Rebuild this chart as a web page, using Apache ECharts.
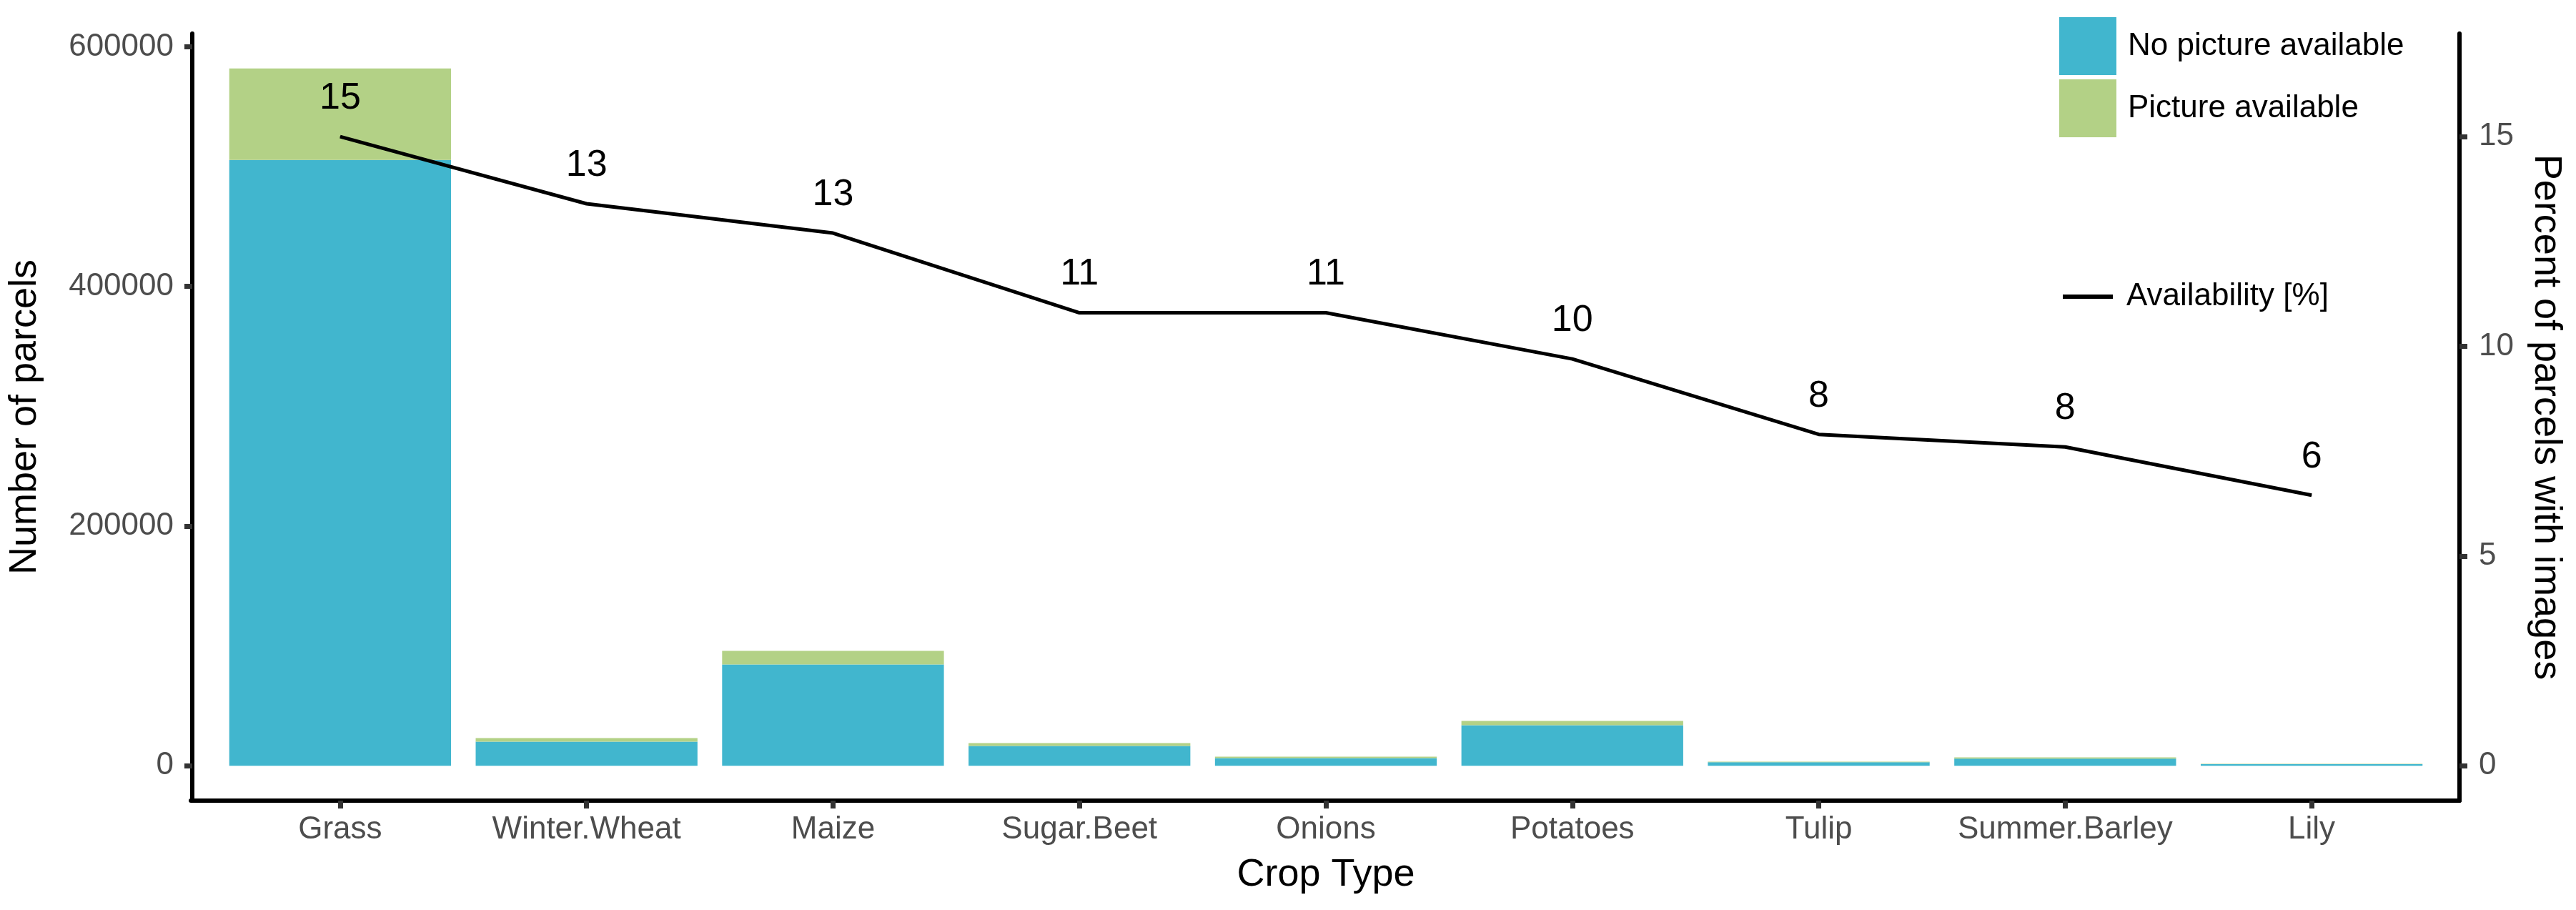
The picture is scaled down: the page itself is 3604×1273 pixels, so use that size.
<!DOCTYPE html>
<html>
<head>
<meta charset="utf-8">
<script src="https://cdn.jsdelivr.net/npm/echarts@6/dist/echarts.min.js"></script>
<style>
html,body{margin:0;padding:0;background:#fff;}
#chart{width:3604px;height:1273px;}
</style>
</head>
<body>
<div id="chart"></div>
<script>
// ---- data ----
const crops = ['Grass','Winter.Wheat','Maize','Sugar.Beet','Onions','Potatoes','Tulip','Summer.Barley','Lily'];
const noPicture = [505500, 20100, 84600, 16500, 6400, 33900, 3000, 6000, 1300];
const picture   = [76400, 3000, 11300, 2400, 1200, 3500, 400, 1000, 300];
const availabilityPct = [15.0, 13.4, 12.7, 10.8, 10.8, 9.7, 7.9, 7.6, 6.45];
const leftTicks = [0, 200000, 400000, 600000];
const rightTicks = [0, 5, 10, 15];
const secRatio = 35000; // secondary axis = primary / 35000

const FONT = 'Liberation Sans, Arial, sans-serif';
const leftMin = -29100, leftMax = 611000;

const chart = echarts.init(document.getElementById('chart'), null, {renderer:'canvas'});
chart.setOption({
  animation: false,
  backgroundColor: '#fff',
  textStyle: {fontFamily: FONT},
  grid: [
    {left: 301.5, right: 197.5, top: 47, bottom: 153},
    {left: 267, right: 163, top: 47, bottom: 153}
  ],
  xAxis: [
    {
      type: 'category', gridIndex: 0, data: crops, boundaryGap: true,
      axisLine: {show: false, onZero: false},
      axisTick: {show: true, alignWithLabel: true, length: 11, lineStyle: {color: '#333', width: 7}},
      axisLabel: {fontSize: 44, color: '#4d4d4d', margin: 19, fontFamily: FONT, interval: 0},
      splitLine: {show: false},
      name: 'Crop Type', nameLocation: 'middle', nameGap: 77,
      nameTextStyle: {fontSize: 54, color: '#000', fontFamily: FONT}
    },
    {
      type: 'value', gridIndex: 1,
      axisLine: {show: true, onZero: false, lineStyle: {color: '#000', width: 6}},
      axisTick: {show: false}, axisLabel: {show: false}, splitLine: {show: false}
    }
  ],
  yAxis: [
    {
      type: 'value', gridIndex: 0, position: 'left', offset: 34.5,
      min: leftMin, max: leftMax,
      axisLine: {show: true, lineStyle: {color: '#000', width: 6}},
      axisTick: {show: true, length: 11, customValues: leftTicks, lineStyle: {color: '#333', width: 7}},
      axisLabel: {customValues: leftTicks, fontSize: 44, color: '#4d4d4d', margin: 26, fontFamily: FONT,
                  formatter: v => String(v)},
      splitLine: {show: false},
      name: 'Number of parcels', nameLocation: 'middle', nameGap: 207,
      nameTextStyle: {fontSize: 54, color: '#000', fontFamily: FONT}
    },
    {
      type: 'value', gridIndex: 0, position: 'right', offset: 34.5,
      min: leftMin / secRatio, max: leftMax / secRatio,
      axisLine: {show: true, lineStyle: {color: '#000', width: 6}},
      axisTick: {show: true, length: 11, customValues: rightTicks, lineStyle: {color: '#333', width: 7}},
      axisLabel: {customValues: rightTicks, fontSize: 44, color: '#4d4d4d', margin: 27, fontFamily: FONT,
                  formatter: v => String(v)},
      splitLine: {show: false},
      name: 'Percent of parcels with images', nameLocation: 'middle', nameGap: 94, nameRotate: -90,
      nameTextStyle: {fontSize: 54, color: '#000', fontFamily: FONT}
    },
    {type: 'value', gridIndex: 1, show: false}
  ],
  legend: [
    {
      data: ['No picture available', 'Picture available'],
      orient: 'vertical', left: 2876, top: 19, padding: 5,
      itemWidth: 80, itemHeight: 81, itemGap: 6, icon: 'rect',
      selectedMode: false,
      textStyle: {fontSize: 44, color: '#000', fontFamily: FONT, padding: [0, 0, 0, 11]}
    },
    {
      data: [{name: 'Availability [%]', icon: 'rect'}],
      orient: 'vertical', left: 2881, top: 388, padding: 5,
      itemWidth: 70, itemHeight: 6, selectedMode: false,
      textStyle: {fontSize: 44, color: '#000', fontFamily: FONT, padding: [0, 0, 0, 14]}
    }
  ],
  series: [
    {
      type: 'bar', name: 'No picture available', stack: 'parcels',
      xAxisIndex: 0, yAxisIndex: 0, data: noPicture, barWidth: '90%',
      itemStyle: {color: '#41b6ce'}
    },
    {
      type: 'bar', name: 'Picture available', stack: 'parcels',
      xAxisIndex: 0, yAxisIndex: 0, data: picture, barWidth: '90%',
      itemStyle: {color: '#b3d186'}
    },
    {
      type: 'line', name: 'Availability [%]',
      xAxisIndex: 0, yAxisIndex: 1, data: availabilityPct,
      symbol: 'circle', symbolSize: 1, z: 10,
      lineStyle: {color: '#000', width: 5},
      itemStyle: {color: '#000'},
      label: {
        show: true, position: 'top', distance: 27,
        fontSize: 52, color: '#000', fontFamily: FONT,
        formatter: p => String(Math.round(p.value))
      }
    }
  ]
});
</script>
</body>
</html>
